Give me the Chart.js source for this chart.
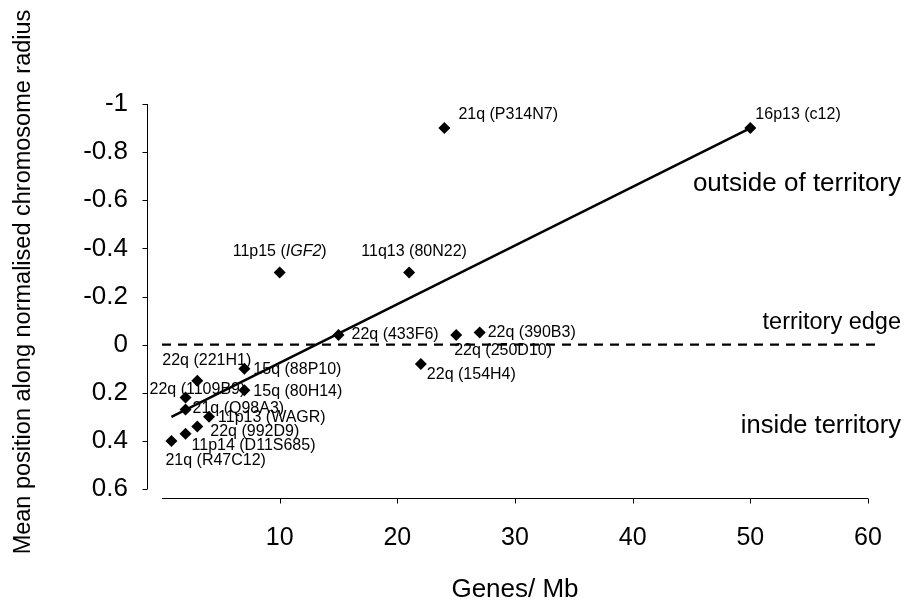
<!DOCTYPE html>
<html lang="en">
<head>
  <meta charset="UTF-8">
  <title>Genes/Mb vs mean position</title>
  <script src="https://cdn.jsdelivr.net/npm/chart.js"></script>
  <style>
    html, body { margin: 0; padding: 0; background: #fff; }
  </style>
</head>
<body>
  <canvas id="posChart" width="917" height="605"></canvas>
  <script>
    // probe names, gene density and mean position
    var probeNames = [
      '16p13 (c12)', '21q (P314N7)', '11p15 (IGF2)', '11q13 (80N22)',
      '22q (433F6)', '22q (250D10)', '22q (390B3)', '22q (154H4)',
      '22q (221H1)', '15q (88P10)', '22q (1109B9)', '15q (80H14)',
      '21q (Q98A3)', '11p13 (WAGR)', '22q (992D9)', '11p14 (D11S685)',
      '21q (R47C12)'
    ];
    var genesPerMb = [50, 24, 10, 21, 15, 25, 27, 22, 3, 7, 2, 7, 2, 4, 3, 2, 0.8];
    var meanPosition = [-0.9, -0.9, -0.3, -0.3, -0.04, -0.04, -0.05, 0.08,
                        0.15, 0.10, 0.22, 0.19, 0.27, 0.30, 0.34, 0.37, 0.40];
    var italicWords = ['IGF2'];

    // trend line ends and the territory edge line
    var trendX = [0.8, 50];
    var trendY = [0.30, -0.90];
    var edgeX = [0, 60.6];
    var edgeY = [0, 0];

    var xTicks = [10, 20, 30, 40, 50, 60];
    var yTicks = [-1, -0.8, -0.6, -0.4, -0.2, 0, 0.2, 0.4, 0.6];
    var regionTexts = ['outside of territory', 'territory edge', 'inside territory'];
    var xTitle = 'Genes/ Mb';
    var yTitle = 'Mean position along normalised chromosome radius';

    var FONT = "'Liberation Sans', Arial, sans-serif";

    function toXY(xs, ys) {
      return xs.map(function (x, i) { return { x: x, y: ys[i] }; });
    }

    // label placement next to each point: [dx, dy, align]
    var labelPlace = [
      [5, -13, 'left'], [14, -13, 'left'], [0, -21, 'center'], [5, -21, 'center'],
      [13, 0, 'left'], [-2, 16, 'left'], [8, 0, 'left'], [6, 11, 'left'],
      [-35, -20, 'left'], [9, 1, 'left'], [-36, -8, 'left'], [9, 1, 'left'],
      [7, -1, 'left'], [9, 1, 'left'], [13, 5, 'left'], [6, 12, 'left'],
      [-6, 20, 'left']
    ];

    function drawLabel(ctx, text, x, y, align) {
      // split out italic gene names
      var parts = [];
      var rest = text;
      italicWords.forEach(function (w) {
        var i = rest.indexOf(w);
        if (i >= 0) {
          parts.push([rest.slice(0, i), false]);
          parts.push([w, true]);
          rest = rest.slice(i + w.length);
        }
      });
      parts.push([rest, false]);
      var total = 0;
      parts.forEach(function (p) {
        ctx.font = (p[1] ? 'italic ' : '') + '16px ' + FONT;
        p.push(ctx.measureText(p[0]).width);
        total += p[2];
      });
      var cx = align === 'center' ? x - total / 2 : x;
      ctx.textAlign = 'left';
      parts.forEach(function (p) {
        ctx.font = (p[1] ? 'italic ' : '') + '16px ' + FONT;
        ctx.fillText(p[0], cx, y);
        cx += p[2];
      });
    }

    var annotatePlugin = {
      id: 'annotate',
      afterDraw: function (chart) {
        var ctx = chart.ctx;
        var xs = chart.scales.x, ys = chart.scales.y;
        var area = chart.chartArea;
        ctx.save();
        ctx.strokeStyle = '#000';
        ctx.fillStyle = '#000';
        ctx.lineWidth = 1;

        // y axis line, set off to the left
        var ax = Math.round(area.left - 15) + 0.5;
        ctx.beginPath();
        ctx.moveTo(ax, ys.getPixelForValue(-1));
        ctx.lineTo(ax, ys.getPixelForValue(0.6));
        yTicks.forEach(function (v) {
          var py = Math.round(ys.getPixelForValue(v)) + 0.5;
          ctx.moveTo(ax - 5, py);
          ctx.lineTo(ax, py);
        });
        ctx.stroke();

        // x axis line, set off below
        var ay = Math.round(area.bottom + 9) + 0.5;
        ctx.beginPath();
        ctx.moveTo(xs.getPixelForValue(0), ay);
        ctx.lineTo(xs.getPixelForValue(60), ay);
        xTicks.forEach(function (v) {
          var px = Math.round(xs.getPixelForValue(v)) + 0.5;
          ctx.moveTo(px, ay);
          ctx.lineTo(px, ay + 5);
        });
        ctx.stroke();

        // point labels
        ctx.textBaseline = 'middle';
        probeNames.forEach(function (name, i) {
          var px = xs.getPixelForValue(genesPerMb[i]);
          var py = ys.getPixelForValue(meanPosition[i]);
          var p = labelPlace[i];
          drawLabel(ctx, name, px + p[0], py + p[1], p[2]);
        });

        // region captions on the right
        ctx.textAlign = 'right';
        var rx = area.right + 33;
        ctx.font = '26px ' + FONT;
        ctx.fillText(regionTexts[0], rx, ys.getPixelForValue(-0.67));
        ctx.font = '23.5px ' + FONT;
        ctx.fillText(regionTexts[1], rx, ys.getPixelForValue(-0.09));
        ctx.font = '25.5px ' + FONT;
        ctx.fillText(regionTexts[2], rx, ys.getPixelForValue(0.34));

        // y axis title
        ctx.translate(24, 282);
        ctx.rotate(-Math.PI / 2);
        ctx.textAlign = 'center';
        ctx.font = '23.5px ' + FONT;
        ctx.fillText(yTitle, 0, 0);
        ctx.restore();
      }
    };

    var posChart = new Chart(document.getElementById('posChart'), {
      type: 'scatter',
      data: {
        datasets: [
          {
            label: 'probes',
            data: toXY(genesPerMb, meanPosition),
            pointStyle: 'rectRot',
            pointRadius: 6,
            backgroundColor: '#000',
            borderColor: '#000',
            borderWidth: 0,
            order: 2
          },
          {
            label: 'trend',
            data: toXY(trendX, trendY),
            showLine: true,
            borderColor: '#000',
            borderWidth: 2.5,
            pointRadius: 0,
            order: 1
          },
          {
            label: 'territory edge',
            data: toXY(edgeX, edgeY),
            showLine: true,
            borderColor: '#000',
            borderWidth: 2.2,
            borderDash: [9, 7],
            pointRadius: 0,
            clip: false,
            order: 3
          }
        ]
      },
      options: {
        responsive: false,
        animation: false,
        layout: { padding: { top: 104, right: 49, bottom: 0, left: 0 } },
        plugins: {
          legend: { display: false },
          tooltip: { enabled: false }
        },
        scales: {
          x: {
            type: 'linear',
            min: 0,
            max: 60,
            afterBuildTicks: function (s) { s.ticks = xTicks.map(function (v) { return { value: v }; }); },
            afterFit: function (s) { s.height = 116; },
            grid: { display: false, drawTicks: false },
            border: { display: false },
            ticks: { color: '#000', font: { family: FONT, size: 25 }, padding: 34, maxRotation: 0, autoSkip: false },
            title: { display: true, text: xTitle, color: '#000', font: { family: FONT, size: 26 }, padding: { top: 0, bottom: 0 } }
          },
          y: {
            type: 'linear',
            reverse: true,
            min: -1,
            max: 0.6,
            afterBuildTicks: function (s) { s.ticks = yTicks.map(function (v) { return { value: v }; }); },
            afterFit: function (s) { s.width = 162; },
            grid: { display: false, drawTicks: false },
            border: { display: false },
            ticks: {
              color: '#000',
              font: { family: FONT, size: 26 },
              padding: 34,
              autoSkip: false,
              callback: function (v) { return String(+v.toFixed(1)); }
            }
          }
        }
      },
      plugins: [annotatePlugin]
    });
  </script>
</body>
</html>
